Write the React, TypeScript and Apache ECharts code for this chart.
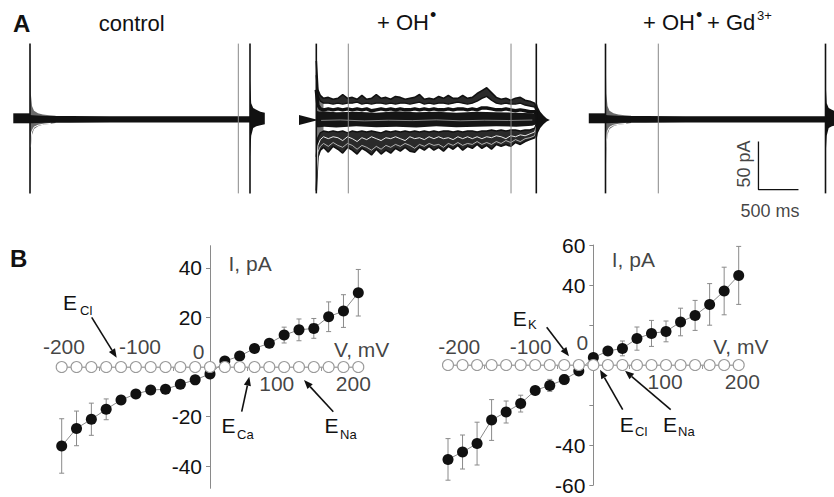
import React, { useEffect, useRef } from "react";
import * as echarts from "echarts";

const FONT = "Liberation Sans";

// ---------------- Panel A: current traces (time in ms, current in pA) ----------------
const PULSE_END = 2750;
const SPIKE_LO = -78;
const SPIKE_HI = 78;

const cursorsControl = [2604];
const cursorsOH = [400, 2434];
const cursorsGd = [660];

// holding current before the pulse
const holdT = [-209, 0];
const holdHi = [5.4, 5.4];
const holdLo = [-5, -5];
const holdOHT = [-216, 0];
const holdOHHi = [3.6, -1];
const holdOHLo = [-6.8, -2];

// capacitive fan and steady band (control and Gd3+)
const fanT = [0, 10, 25, 50, 100, 160, 240, 320];
const fanHi = [78, 26, 13, 8, 5.5, 4.2, 3.4, 2.8];
const fanLo = [-78, -30, -17, -11, -8, -6.6, -5.6, -4.8];
const coreT = [0, 30, 80, 200, 500, 1000, 2000, 2750];
const coreHi = [3.6, 3.4, 3.0, 2.7, 2.5, 2.4, 2.4, 2.4];
const coreLo = [-5.0, -4.9, -4.7, -4.5, -4.3, -4.2, -4.2, -4.2];
const gapT = [5, 20, 50, 100, 170, 260];
const gapI = [-30, -14, -9, -7, -5.9, -5.1];
const tailT = [2750, 2765, 2790, 2830, 2880, 2935];
const tailHi = [40, 16, 11, 9, 7, 6];
const tailLo = [-40, -18, -10, -8, -7, -6];

// + OH radical: noisy sweeps
const ohT = [0, 20, 50, 90, 150, 210, 270, 330, 390, 450, 510, 570, 630, 690, 750, 810, 870, 930, 990,
  1050, 1110, 1170, 1230, 1290, 1350, 1410, 1470, 1530, 1590, 1650, 1710, 1770, 1830, 1890, 1950,
  2010, 2070, 2130, 2190, 2250, 2310, 2370, 2430, 2490, 2550, 2610, 2670, 2730, 2750];
const ohTrace1 = [60, 30, 24, 21, 22, 20, 21, 25, 21, 22, 20, 24, 20, 21, 25, 21, 22, 20, 23, 22, 20, 21, 22, 25,
  20, 21, 20, 23, 21, 24, 21, 21, 24, 21, 22, 26, 29, 32, 27, 22, 20, 21, 19, 21, 22, 19, 18, 16, 10];
const ohTrace2 = [45, 24, 18, 16, 16, 15, 16, 15, 16, 16, 17, 15, 16, 15, 16, 16, 15, 16, 15, 16, 16, 15, 16, 17,
  15, 16, 15, 16, 16, 15, 16, 17, 16, 15, 16, 18, 21, 23, 19, 16, 15, 16, 15, 15, 16, 14, 13, 12, 7];
const ohTrace3 = [30, 14, 10, 9, 10, 9, 10, 9, 10, 9, 10, 9, 10, 8, 9, 10, 9, 10, 9, 10, 9, 9, 10, 9,
  10, 9, 10, 9, 9, 10, 9, 10, 10, 9, 10, 9, 11, 11, 10, 9, 9, 10, 9, 8, 9, 8, 7, 7, 4];
const ohTrace4 = [-40, -20, -15, -13, -14, -13, -14, -13, -15, -13, -14, -13, -14, -13, -14, -15, -13, -14, -13, -14,
  -13, -14, -13, -14, -13, -14, -13, -14, -13, -13, -14, -13, -14, -13, -13, -14, -13, -13, -12, -13, -12, -13,
  -12, -12, -13, -12, -12, -10, -6];
const ohTrace5 = [-55, -28, -22, -19, -21, -19, -20, -23, -19, -21, -24, -20, -22, -19, -21, -23, -20, -21, -19, -21,
  -23, -19, -21, -20, -22, -19, -21, -19, -21, -20, -22, -19, -21, -19, -21, -19, -21, -19, -20, -18, -19, -21,
  -18, -19, -17, -18, -16, -14, -8];
const ohTrace6 = [-65, -35, -29, -26, -29, -25, -28, -30, -26, -28, -32, -28, -30, -33, -29, -32, -28, -30, -27, -29,
  -26, -28, -31, -27, -29, -26, -28, -27, -30, -26, -28, -25, -28, -26, -27, -24, -27, -25, -27, -24, -26, -23,
  -25, -22, -24, -21, -20, -18, -10];
const ohTrace7 = [-75, -40, -33, -30, -35, -29, -32, -36, -30, -33, -37, -31, -34, -38, -32, -37, -33, -36, -31, -34,
  -30, -34, -35, -30, -33, -29, -33, -30, -34, -29, -32, -28, -33, -29, -31, -27, -31, -28, -32, -27, -29, -27,
  -29, -25, -27, -24, -22, -20, -12];
const ohCenterT = [0, 40, 100, 250, 500, 750, 1000, 1250, 1500, 1750, 2000, 2250, 2500, 2700, 2750];
const ohCenterHi = [8, 7, 7.5, 6.5, 7, 6, 7.5, 6.5, 7, 6, 7, 6.5, 6, 5.5, 4];
const ohCenterLo = [-9, -9, -8.5, -9.5, -8, -9, -8.5, -9.5, -8, -9, -8.5, -8, -8.5, -7.5, -6];
const ohStreakT = [60, 300, 600, 900, 1200, 1500, 1800, 2100, 2400, 2700];
const ohStreakI = [-2, -1.5, -2.5, -1.8, -2.2, -1.4, -2.4, -1.8, -2.1, -1.6];
const ohFanT = [0, 10, 25, 50, 90];
const ohFanHi = [78, 45, 30, 24, 22];
const ohFanLo = [-78, -55, -42, -34, -31];
const ohTailT = [2750, 2770, 2800, 2840, 2880, 2920];
const ohTailHi = [18, 12, 7, 3, 0, -1.5];
const ohTailLo = [-24, -15, -10, -6, -3, -1.5];

// scale bar: 50 pA, 500 ms
const scaleBarT = [1912, 1912, 2412];
const scaleBarI = [-24, -74, -74];
const scaleTexts = ["50 pA", "500 ms"];
const scaleTextT = [1731, 2056];
const scaleTextI = [-47.4, -96.4];
const scaleTextRotate = [90, 0];

// ---------------- Panel B: I-V relations ----------------
const voltages = [-200, -180, -160, -140, -120, -100, -80, -60, -40, -20, 0, 20, 40, 60, 80, 100, 120, 140, 160, 180, 200];
const leftI = [-31.9, -24.8, -21.1, -17.1, -13.3, -10.9, -9.3, -9.0, -7.0, -5.2, -2.8, 2.4, 4.4, 7.5, 9.6, 12.9, 15.0, 15.6, 20.3, 22.6, 30.0];
const leftErr = [11, 7, 6.5, 4.2, 1.5, 1.5, 1.5, 1.5, 1.5, 1.5, 1.5, 1.5, 1.5, 1.5, 1.5, 3.2, 4.4, 4, 6, 6.6, 9.4];
const rightI = [-47.2, -43.5, -39.3, -27.5, -23.5, -19.3, -12.7, -10.2, -7.3, -3.0, 3.7, 7.0, 8.3, 13.2, 15.8, 16.8, 21.5, 24.8, 30.3, 37.0, 44.8];
const rightErr = [10.4, 8.5, 10.7, 10.2, 5.5, 4.2, 1.5, 3, 2.5, 1.5, 1.5, 1.5, 3.7, 5.8, 6.5, 5.2, 6.9, 7.5, 10.4, 11.9, 14.5];
const controlI = [0, 0, 0, 0, 0, 0, 0, 0, 0, 0, 0, 0, 0, 0, 0, 0, 0, 0, 0, 0, 0];

const leftYTicks = [-40, -20, 20, 40];
const rightYLabels = [-60, -40, 40, 60];
const rightYTicks = [-60, -40, -20, 20, 40, 60];
const xTicks = [-150, -50, 50, 150];

const leftTexts = ["-200", "-100", "0", "100", "200", "V, mV", "I, pA"];
const leftTextX = [-197, -94.4, -15.3, 90, 193.3, 204.6, 54];
const leftTextY = [8.1, 8.1, 6.2, -6.6, -6.6, 6.9, 41.9];
const rightTexts = ["-200", "-100", "0", "100", "200", "V, mV", "I, pA"];
const rightTextX = [-184.5, -86.2, -15.1, 98.7, 205, 202.9, 55];
const rightTextY = [9.5, 9.5, 11.2, -8, -8, 9.5, 52.8];

// ---------------- helpers ----------------
function band(g: number, t: number[], hi: number[], lo: number[], color: string, z: number) {
  return {
    type: "custom", xAxisIndex: g, yAxisIndex: g, z, silent: true,
    data: t.map((v, i) => [v, hi[i], lo[i]]),
    encode: { x: 0, y: [1, 2] },
    renderItem: (params: any, api: any) => {
      if (params.dataIndex !== 0) return null;
      const pts: number[][] = [];
      for (let i = 0; i < t.length; i++) pts.push(api.coord([t[i], hi[i]]));
      for (let i = t.length - 1; i >= 0; i--) pts.push(api.coord([t[i], lo[i]]));
      return { type: "polygon", shape: { points: pts }, style: { fill: color } };
    },
  };
}

function vlines(g: number, times: number[], color: string, width: number, z: number) {
  return {
    type: "custom", xAxisIndex: g, yAxisIndex: g, z, silent: true,
    data: times.map((t) => [t, SPIKE_LO, SPIKE_HI]),
    encode: { x: 0, y: [1, 2] },
    renderItem: (params: any, api: any) => {
      const a = api.coord([api.value(0), api.value(1)]);
      const b = api.coord([api.value(0), api.value(2)]);
      return { type: "line", shape: { x1: a[0], y1: a[1], x2: b[0], y2: b[1] }, style: { stroke: color, lineWidth: width } };
    },
  };
}

function trace(g: number, t: number[], v: number[], color: string, width: number, z: number) {
  return {
    type: "line", xAxisIndex: g, yAxisIndex: g, z, silent: true, showSymbol: false, symbol: "none",
    data: t.map((x, i) => [x, v[i]]),
    lineStyle: { color, width },
  };
}

function errorBars(g: number, xs: number[], ys: number[], es: number[]) {
  return {
    type: "custom", xAxisIndex: g, yAxisIndex: g, z: 2, silent: true,
    data: xs.map((x, i) => [x, ys[i] - es[i], ys[i] + es[i]]),
    encode: { x: 0, y: [1, 2] },
    renderItem: (params: any, api: any) => {
      const x = api.value(0);
      const lo = api.coord([x, api.value(1)]);
      const hi = api.coord([x, api.value(2)]);
      const c = 2.5;
      const st = { stroke: "#8a8a8a", lineWidth: 1 };
      return {
        type: "group",
        children: [
          { type: "line", shape: { x1: lo[0], y1: lo[1], x2: hi[0], y2: hi[1] }, style: st },
          { type: "line", shape: { x1: lo[0] - c, y1: lo[1], x2: lo[0] + c, y2: lo[1] }, style: st },
          { type: "line", shape: { x1: hi[0] - c, y1: hi[1], x2: hi[0] + c, y2: hi[1] }, style: st },
        ],
      };
    },
  };
}

function axisTexts(g: number, xs: number[], ys: number[], texts: string[], size = 21, rot: number[] = []) {
  return {
    type: "scatter", xAxisIndex: g, yAxisIndex: g, clip: false, silent: true, z: 10,
    symbolSize: 1, itemStyle: { color: "rgba(0,0,0,0)" },
    data: xs.map((x, i) => ({ value: [x, ys[i]], label: { formatter: texts[i], rotate: rot[i] || 0 } })),
    label: { show: true, position: "inside", fontSize: size, fontFamily: FONT, color: "#111" },
  };
}

function txt(text: string, x: number, y: number, size: number, align = "center", bold = false) {
  return {
    type: "text", x, y, silent: true,
    style: {
      text, fill: "#111", fontSize: size, fontFamily: FONT, fontWeight: bold ? "bold" : "normal",
      align, textAlign: align, verticalAlign: "middle", textVerticalAlign: "middle",
    },
  };
}

function arrow(x1: number, y1: number, x2: number, y2: number) {
  const ang = Math.atan2(y2 - y1, x2 - x1);
  const L = 9, W = 3.6;
  const bx = x2 - L * Math.cos(ang), by = y2 - L * Math.sin(ang);
  const px = -Math.sin(ang) * W, py = Math.cos(ang) * W;
  return [
    { type: "line", silent: true, shape: { x1, y1, x2: bx, y2: by }, style: { stroke: "#111", lineWidth: 1.6 } },
    { type: "polygon", silent: true, shape: { points: [[x2, y2], [bx + px, by + py], [bx - px, by - py]] }, style: { fill: "#111" } },
  ];
}

function eLabel(x: number, y: number, sub: string, subX: number, subY: number) {
  return [txt("E", x, y, 21), txt(sub, subX, subY, 13, "left")];
}

// ---------------- layout ----------------
const spikeX = [30, 316.3, 605.5];
const PX_PER_MS = 0.08;
const T_MIN = -220;
const T_MAXES = [3000, 3000, 2850];

export default function App() {
  const ref = useRef<HTMLDivElement>(null);
  useEffect(() => {
    if (!ref.current) return;
    const chart = echarts.init(ref.current, undefined, { renderer: "svg" });

    const grids: any[] = spikeX.map((sx, k) => ({
      left: sx + T_MIN * PX_PER_MS, top: 41.7, width: (T_MAXES[k] - T_MIN) * PX_PER_MS, height: 153.6,
      outerBoundsMode: "none", containLabel: false,
    }));
    const ivGrids = [
      { left: 61.7, top: 245.7, width: 296.6, height: 242.6, ymin: -49, ymax: 49 },
      { left: 448, top: 245, width: 290.7, height: 240, ymin: -60, ymax: 60 },
    ];
    ivGrids.forEach((g) => grids.push({
      left: g.left, top: g.top, width: g.width, height: g.height, outerBoundsMode: "none", containLabel: false,
    }));

    const xAxes: any[] = [0, 1, 2].map((g) => ({ type: "value", gridIndex: g, min: T_MIN, max: T_MAXES[g], show: false }));
    const yAxes: any[] = [0, 1, 2].map((g) => ({ type: "value", gridIndex: g, min: -80, max: 80, show: false }));

    ivGrids.forEach((gr, k) => {
      const g = 3 + k;
      // place axes through the origin by offsetting them from the grid edges
      const zeroX = gr.width / 2;
      const zeroYFromBottom = (0 - gr.ymin) / (gr.ymax - gr.ymin) * gr.height;
      xAxes.push({
        type: "value", gridIndex: g, min: -200, max: 200, position: "bottom",
        offset: -zeroYFromBottom,
        axisLine: { show: true, onZero: false, lineStyle: { color: "#aaa", width: 1 } },
        axisTick: { show: true, customValues: xTicks, length: 4, lineStyle: { color: "#999" } },
        axisLabel: { show: false },
        splitLine: { show: false },
      });
      const labels = k === 0 ? leftYTicks : rightYLabels;
      const ticks = k === 0 ? leftYTicks : rightYTicks;
      yAxes.push({
        type: "value", gridIndex: g, min: gr.ymin, max: gr.ymax, position: "left",
        offset: -zeroX,
        axisLine: { show: true, onZero: false, lineStyle: { color: "#8a8a8a", width: 1 } },
        axisTick: { show: true, customValues: ticks, length: 4, lineStyle: { color: "#8a8a8a" } },
        axisLabel: { show: true, customValues: labels, fontSize: 21, fontFamily: FONT, color: "#111", margin: 8 },
        splitLine: { show: false },
      });
    });

    const series: any[] = [];
    // control (0) and Gd (2)
    [0, 2].forEach((g) => {
      series.push(band(g, holdT, holdHi, holdLo, "#111", 3));
      series.push(band(g, fanT, fanHi, fanLo, "#6a6a6a", 2));
      series.push(band(g, coreT, coreHi, coreLo, "#111", 3));
      series.push(trace(g, gapT, gapI, "#fff", 1, 4));
      series.push(band(g, tailT, tailHi, tailLo, "#111", 3));
      series.push(vlines(g, [0, PULSE_END], "#111", 1.6, 5));
    });
    series.push(vlines(0, cursorsControl, "#888", 1, 6));
    series.push(vlines(2, cursorsGd, "#888", 1, 6));
    // OH (1)
    series.push(band(1, holdOHT, holdOHHi, holdOHLo, "#111", 3));
    series.push(band(1, ohFanT, ohFanHi, ohFanLo, "#7a7a7a", 2));
    series.push(band(1, ohT, ohTrace1, ohTrace2, "#2a2a2a", 3));
    series.push(band(1, ohCenterT, ohCenterHi, ohCenterLo, "#151515", 3));
    series.push(band(1, ohT, ohTrace4, ohTrace7, "#2a2a2a", 3));
    series.push(trace(1, ohT, ohTrace1, "#111", 1.6, 4));
    series.push(trace(1, ohT, ohTrace2, "#111", 1.4, 4));
    series.push(trace(1, ohT, ohTrace3, "#111", 3.5, 4));
    series.push(trace(1, ohT, ohTrace4, "#111", 1.4, 4));
    series.push(trace(1, ohT, ohTrace7, "#111", 1.6, 4));
    series.push(trace(1, ohT, ohTrace5, "#fff", 0.9, 5));
    series.push(trace(1, ohT, ohTrace6, "#eee", 0.7, 5));
    series.push(trace(1, ohStreakT, ohStreakI, "#ccc", 0.6, 5));
    series.push(band(1, ohTailT, ohTailHi, ohTailLo, "#111", 3));
    series.push(vlines(1, [0, PULSE_END], "#111", 1.6, 6));
    series.push(vlines(1, cursorsOH, "#888", 1, 6));
    // scale bar
    series.push(trace(2, scaleBarT, scaleBarI, "#111", 1.3, 6));
    series.push(axisTexts(2, scaleTextT, scaleTextI, scaleTexts, 18, scaleTextRotate));

    // I-V panels
    const iv = (g: number, ys: number[], es: number[], texts: string[], tx: number[], ty: number[]) => {
      series.push(errorBars(g, voltages, ys, es));
      series.push({
        type: "line", xAxisIndex: g, yAxisIndex: g, z: 3, silent: true,
        data: voltages.map((v, i) => [v, ys[i]]),
        symbol: "circle", symbolSize: 11,
        itemStyle: { color: "#111" },
        lineStyle: { color: "#8a8a8a", width: 1 },
      });
      series.push({
        type: "line", xAxisIndex: g, yAxisIndex: g, z: 4, silent: true,
        data: voltages.map((v, i) => [v, controlI[i]]),
        symbol: "circle", symbolSize: 11,
        itemStyle: { color: "#fff", borderColor: "#9a9a9a", borderWidth: 1.1 },
        lineStyle: { color: "#aaa", width: 1 },
      });
      series.push(axisTexts(g, tx, ty, texts));
    };
    iv(3, leftI, leftErr, leftTexts, leftTextX, leftTextY);
    iv(4, rightI, rightErr, rightTexts, rightTextX, rightTextY);

    const elements: any[] = [
      txt("A", 13, 23.5, 24, "left", true),
      txt("control", 131.7, 23, 22),
      txt("+ OH", 377, 22.5, 22, "left"),
      txt("\u2022", 430, 15, 18, "left"),
      txt("+ OH", 643, 22.5, 22, "left"),
      txt("\u2022", 696, 15, 18, "left"),
      txt("+ Gd", 707, 22.5, 22, "left"),
      txt("3+", 757, 15, 13, "left"),
      txt("B", 10, 258.5, 24, "left", true),
      ...eLabel(70, 302.5, "Cl", 80, 310.5),
      ...arrow(91.7, 317.3, 116.7, 357.7),
      ...eLabel(228.5, 425.5, "Ca", 237, 434),
      ...arrow(241.7, 411.7, 249.3, 376.7),
      ...eLabel(331.5, 425.5, "Na", 340, 434),
      ...arrow(333.3, 411.7, 304, 380),
      ...eLabel(519.7, 318, "K", 528, 324),
      ...arrow(546.7, 327.3, 569, 356.3),
      ...eLabel(626.7, 424, "Cl", 635, 431),
      ...arrow(622.7, 409.7, 600, 369.7),
      ...eLabel(670, 424, "Na", 678, 431),
      ...arrow(670.7, 409.7, 625, 370.7),
    ];

    chart.setOption({
      animation: false,
      backgroundColor: "#fff",
      grid: grids,
      xAxis: xAxes,
      yAxis: yAxes,
      series,
      graphic: { elements },
    });
    return () => chart.dispose();
  }, []);

  return (
    <div
      ref={ref}
      style={{ position: "fixed", left: 0, top: 0, width: 834, height: 497, background: "#fff" }}
    />
  );
}
